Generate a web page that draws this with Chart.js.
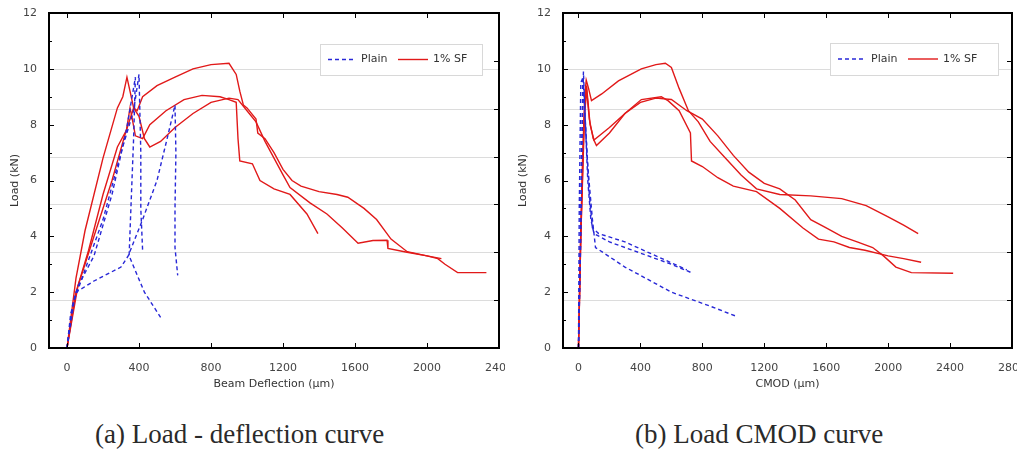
<!DOCTYPE html>
<html>
<head>
<meta charset="utf-8">
<script src="https://cdn.jsdelivr.net/npm/chart.js@4/dist/chart.umd.min.js"></script>
<style>
  body { margin: 0; background: #fff; width: 1017px; height: 457px; position: relative; overflow: hidden; }
  .box { position: absolute; top: 0; height: 395px; }
  #boxA { left: 0; width: 505px; }
  #boxB { left: 508px; width: 509px; }
  .cap { position: absolute; top: 419px; font: 27px "Liberation Serif", serif; color: #2a2a2a; white-space: nowrap; }
</style>
</head>
<body>
<div class="box" id="boxA"><canvas id="chartA"></canvas></div>
<div class="box" id="boxB"><canvas id="chartB"></canvas></div>
<div class="cap" style="left:95px">(a) Load - deflection curve</div>
<div class="cap" style="left:635px">(b) Load CMOD curve</div>
<script>
// load - deflection, plain concrete (x: µm, y: kN)
const defPlain1 = [[0,0],[20,1.2],[50,2],[150,2.4],[300,2.9],[340,3.3],[420,4.6],[500,6],[560,7.6],[600,8.7],[605,7],[600,5],[600,3.6],[615,2.6]];
const defPlain2 = [[0,0],[30,1.5],[60,2.2],[150,3.3],[250,5.5],[330,7.8],[380,9.7],[370,7.5],[355,5],[345,3.3],[430,2],[520,1.1]];
const defPlain3 = [[0,0],[40,1.7],[100,2.8],[200,4.6],[300,7],[370,8.5],[400,9.8],[410,7],[410,5],[420,3.5]];
// load - deflection, 1% steel fibre
const defSF1 = [[0,0],[50,2.5],[100,4.2],[200,6.8],[280,8.6],[310,9],[333,9.7],[350,9.2],[370,8.6],[390,8.5],[420,9],[500,9.4],[600,9.7],[700,10],[800,10.15],[900,10.2],[940,9.8],[960,9.2],[980,8.7],[1000,8.6],[1050,8.2],[1060,7.7],[1100,7.5],[1150,7],[1200,6.4],[1250,6],[1300,5.8],[1400,5.6],[1500,5.5],[1560,5.4],[1650,5],[1720,4.6],[1800,3.9],[1890,3.45],[2000,3.3],[2060,3.2],[2100,3],[2170,2.7],[2330,2.7]];
const defSF2 = [[0,0],[50,2],[120,3.5],[200,5.5],[280,7.2],[330,7.8],[350,8.6],[360,8.3],[380,7.6],[420,7.5],[460,8],[550,8.5],[650,8.9],[750,9.05],[850,9],[900,8.9],[940,8.8],[950,7.5],[960,6.7],[1030,6.6],[1072,6],[1150,5.7],[1239,5.5],[1333,4.8],[1394,4.1]];
const defSF3 = [[0,0],[60,2.2],[150,4],[250,6],[320,7.6],[370,8.6],[400,8.3],[430,7.5],[460,7.2],[520,7.4],[600,7.9],[700,8.4],[800,8.8],[900,8.95],[950,8.9],[1000,8.5],[1050,8.1],[1100,7.4],[1150,6.8],[1200,6.2],[1239,5.75],[1350,5.2],[1444,4.8],[1530,4.3],[1617,3.75],[1700,3.85],[1778,3.86],[1783,3.57],[1889,3.43],[2000,3.3],[2080,3.2]];

// load - CMOD, plain concrete
const cmodPlain1 = [[0,0],[10,3],[20,7],[32,9.9],[45,8],[60,6],[80,4.6],[100,4.1],[200,3.8],[400,3.4],[600,3],[729,2.7]];
const cmodPlain2 = [[0,0],[15,4],[28,9.6],[40,8.5],[60,6.5],[90,4.6],[110,3.6],[300,2.9],[600,2],[850,1.5],[1013,1.15]];
const cmodPlain3 = [[0,0],[5,5],[15,9.5],[30,9.7],[50,7.5],[70,5.5],[90,4.3],[130,4.1],[300,3.8],[500,3.3],[700,2.8]];
// load - CMOD, 1% steel fibre
const cmodSF1 = [[0,0],[10,3],[25,6.5],[40,9],[50,9.6],[65,9.3],[84,8.86],[150,9.1],[258,9.57],[406,10],[500,10.15],[561,10.2],[600,10.05],[650,9.3],[710,8.5],[774,8.1],[850,7.4],[950,6.8],[1050,6.2],[1150,5.7],[1300,5.5],[1500,5.45],[1700,5.35],[1858,5.1],[2000,4.7],[2100,4.4],[2194,4.1]];
const cmodSF2 = [[0,0],[15,4],[35,8],[50,9.4],[70,8.2],[95,7.5],[116,7.25],[200,7.7],[300,8.4],[406,8.9],[535,9],[580,8.85],[650,8.5],[723,7.7],[730,6.7],[800,6.5],[900,6.1],[1000,5.8],[1150,5.6],[1300,5],[1450,4.3],[1550,3.9],[1650,3.8],[1750,3.6],[1850,3.5],[2000,3.3],[2100,3.2],[2213,3.07]];
const cmodSF3 = [[0,0],[15,4],[40,8.5],[55,9.2],[75,8],[100,7.45],[200,7.9],[300,8.4],[400,8.8],[500,8.95],[600,8.9],[700,8.5],[800,8.2],[900,7.6],[1000,6.9],[1100,6.3],[1200,5.9],[1300,5.7],[1400,5.3],[1500,4.6],[1600,4.3],[1700,4],[1800,3.8],[1900,3.6],[1970,3.3],[2050,2.9],[2150,2.7],[2420,2.68]];

const seriesNames = ['Plain', '1% SF'];
const yTicks = [0, 2, 4, 6, 8, 10, 12];
const yMinor = [1, 3, 5, 7, 9, 11];
const gridVals = [12/7, 24/7, 36/7, 48/7, 60/7, 10];
const xTicksA = [0, 400, 800, 1200, 1600, 2000, 2400];
const xTicksB = [0, 400, 800, 1200, 1600, 2000, 2400, 2800];

const BLUE = 'rgb(40,40,215)';
const RED = 'rgb(225,25,25)';
const AXIS = 'rgb(0,0,0)';

const toPts = arr => arr.map(p => ({ x: p[0], y: p[1] }));
const plainSet = (d) => ({ label: seriesNames[0], data: toPts(d), borderColor: BLUE, borderWidth: 1.4, borderDash: [4, 3], pointRadius: 0, showLine: true, fill: false, tension: 0 });
const sfSet = (d) => ({ label: seriesNames[1], data: toPts(d), borderColor: RED, borderWidth: 1.4, pointRadius: 0, showLine: true, fill: false, tension: 0 });

// gridlines, frame, inward ticks and in-plot legend
const framePlugin = {
  id: 'frame',
  beforeDatasetsDraw(chart) {
    const { ctx, chartArea: a } = chart;
    const y = chart.scales.y;
    ctx.save();
    ctx.strokeStyle = '#dcdcdc';
    ctx.lineWidth = 1;
    gridVals.forEach(v => {
      const py = Math.round(y.getPixelForValue(v)) + 0.5;
      ctx.beginPath(); ctx.moveTo(a.left, py); ctx.lineTo(a.right, py); ctx.stroke();
    });
    ctx.restore();
  },
  afterDraw(chart, args, opts) {
    const { ctx, chartArea: a } = chart;
    const x = chart.scales.x, y = chart.scales.y;
    ctx.save();
    ctx.setLineDash([]);
    ctx.fillStyle = AXIS;
    ctx.fillRect(a.left - 1, a.top - 1, a.right - a.left + 2, 2);
    ctx.fillRect(a.left - 1, a.bottom - 1, a.right - a.left + 2, 2);
    ctx.fillRect(a.left - 1, a.top - 1, 2, a.bottom - a.top + 2);
    ctx.fillRect(a.right - 1, a.top - 1, 2, a.bottom - a.top + 2);
    xTicksB.forEach(v => {
      if (v > x.max) return;
      const px = Math.round(x.getPixelForValue(v));
      ctx.fillRect(px, a.bottom - 5, 1, 5);
      ctx.fillRect(px, a.top, 1, 5);
    });
    yTicks.forEach(v => {
      const py = Math.round(y.getPixelForValue(v));
      ctx.fillRect(a.left, py, 5, 1);
    });
    yMinor.forEach(v => {
      const py = Math.round(y.getPixelForValue(v));
      ctx.fillRect(a.left, py, 3, 1);
    });
    gridVals.slice(0, 5).concat([10.29]).forEach(v => {
      const py = Math.round(y.getPixelForValue(v));
      ctx.fillRect(a.right - 5, py, 5, 1);
    });

    // legend box
    const L = opts.legend;
    ctx.fillStyle = '#fff';
    ctx.fillRect(L.x, L.y, L.w, L.h);
    ctx.strokeStyle = '#d8d8d8';
    ctx.lineWidth = 1;
    ctx.strokeRect(L.x + 0.5, L.y + 0.5, L.w, L.h);
    const cy = L.y + L.h / 2;
    ctx.lineWidth = 1.4;
    ctx.strokeStyle = BLUE; ctx.setLineDash([4, 3]);
    ctx.beginPath(); ctx.moveTo(L.x + 8, cy); ctx.lineTo(L.x + 36, cy); ctx.stroke();
    ctx.strokeStyle = RED; ctx.setLineDash([]);
    ctx.beginPath(); ctx.moveTo(L.x + 78, cy); ctx.lineTo(L.x + 108, cy); ctx.stroke();
    ctx.fillStyle = '#333';
    ctx.font = '11px "DejaVu Sans", sans-serif';
    ctx.textBaseline = 'middle';
    ctx.fillText(seriesNames[0], L.x + 41, cy);
    ctx.fillText(seriesNames[1], L.x + 113, cy);
    ctx.restore();
  }
};

function makeChart(id, sets, xMax, xTicks, xTitle, yW, padR, legendPos) {
  return new Chart(document.getElementById(id), {
    type: 'scatter',
    data: { datasets: sets },
    options: {
      responsive: true,
      maintainAspectRatio: false,
      animation: false,
      layout: { padding: { top: 13, right: padR, left: 0, bottom: 0 } },
      plugins: { legend: { display: false }, tooltip: { enabled: false }, frame: { legend: legendPos } },
      scales: {
        x: {
          type: 'linear', min: -100, max: xMax,
          afterBuildTicks: s => { s.ticks = xTicks.map(v => ({ value: v })); },
          afterFit: s => { s.height = 47; s.paddingLeft = 0; s.paddingRight = 0; },
          grid: { display: false },
          border: { display: false },
          ticks: { color: '#444', font: { size: 11, family: 'DejaVu Sans' }, padding: 6, maxRotation: 0, autoSkip: false, callback: v => String(v) },
          title: { display: true, text: xTitle, color: '#333', font: { size: 11, family: 'DejaVu Sans' }, padding: { top: 0 } }
        },
        y: {
          min: 0, max: 12,
          afterBuildTicks: s => { s.ticks = yTicks.map(v => ({ value: v })); },
          afterFit: s => { s.width = yW; },
          grid: { display: false },
          border: { display: false },
          ticks: { color: '#444', font: { size: 11, family: 'DejaVu Sans' }, padding: 4, callback: v => String(v) },
          title: { display: true, text: 'Load (kN)', color: '#333', font: { size: 11, family: 'DejaVu Sans' }, padding: { top: 9, bottom: 0 } }
        }
      }
    },
    plugins: [framePlugin]
  });
}

makeChart('chartA',
  [plainSet(defPlain1), plainSet(defPlain2), plainSet(defPlain3), sfSet(defSF1), sfSet(defSF2), sfSet(defSF3)],
  2400, xTicksA, 'Beam Deflection (µm)', 49, 6, { x: 320, y: 44, w: 162, h: 31 });
makeChart('chartB',
  [plainSet(cmodPlain1), plainSet(cmodPlain2), plainSet(cmodPlain3), sfSet(cmodSF1), sfSet(cmodSF2), sfSet(cmodSF3)],
  2800, xTicksB, 'CMOD (µm)', 55, 5, { x: 322, y: 43, w: 168, h: 32 });
</script>
</body>
</html>
